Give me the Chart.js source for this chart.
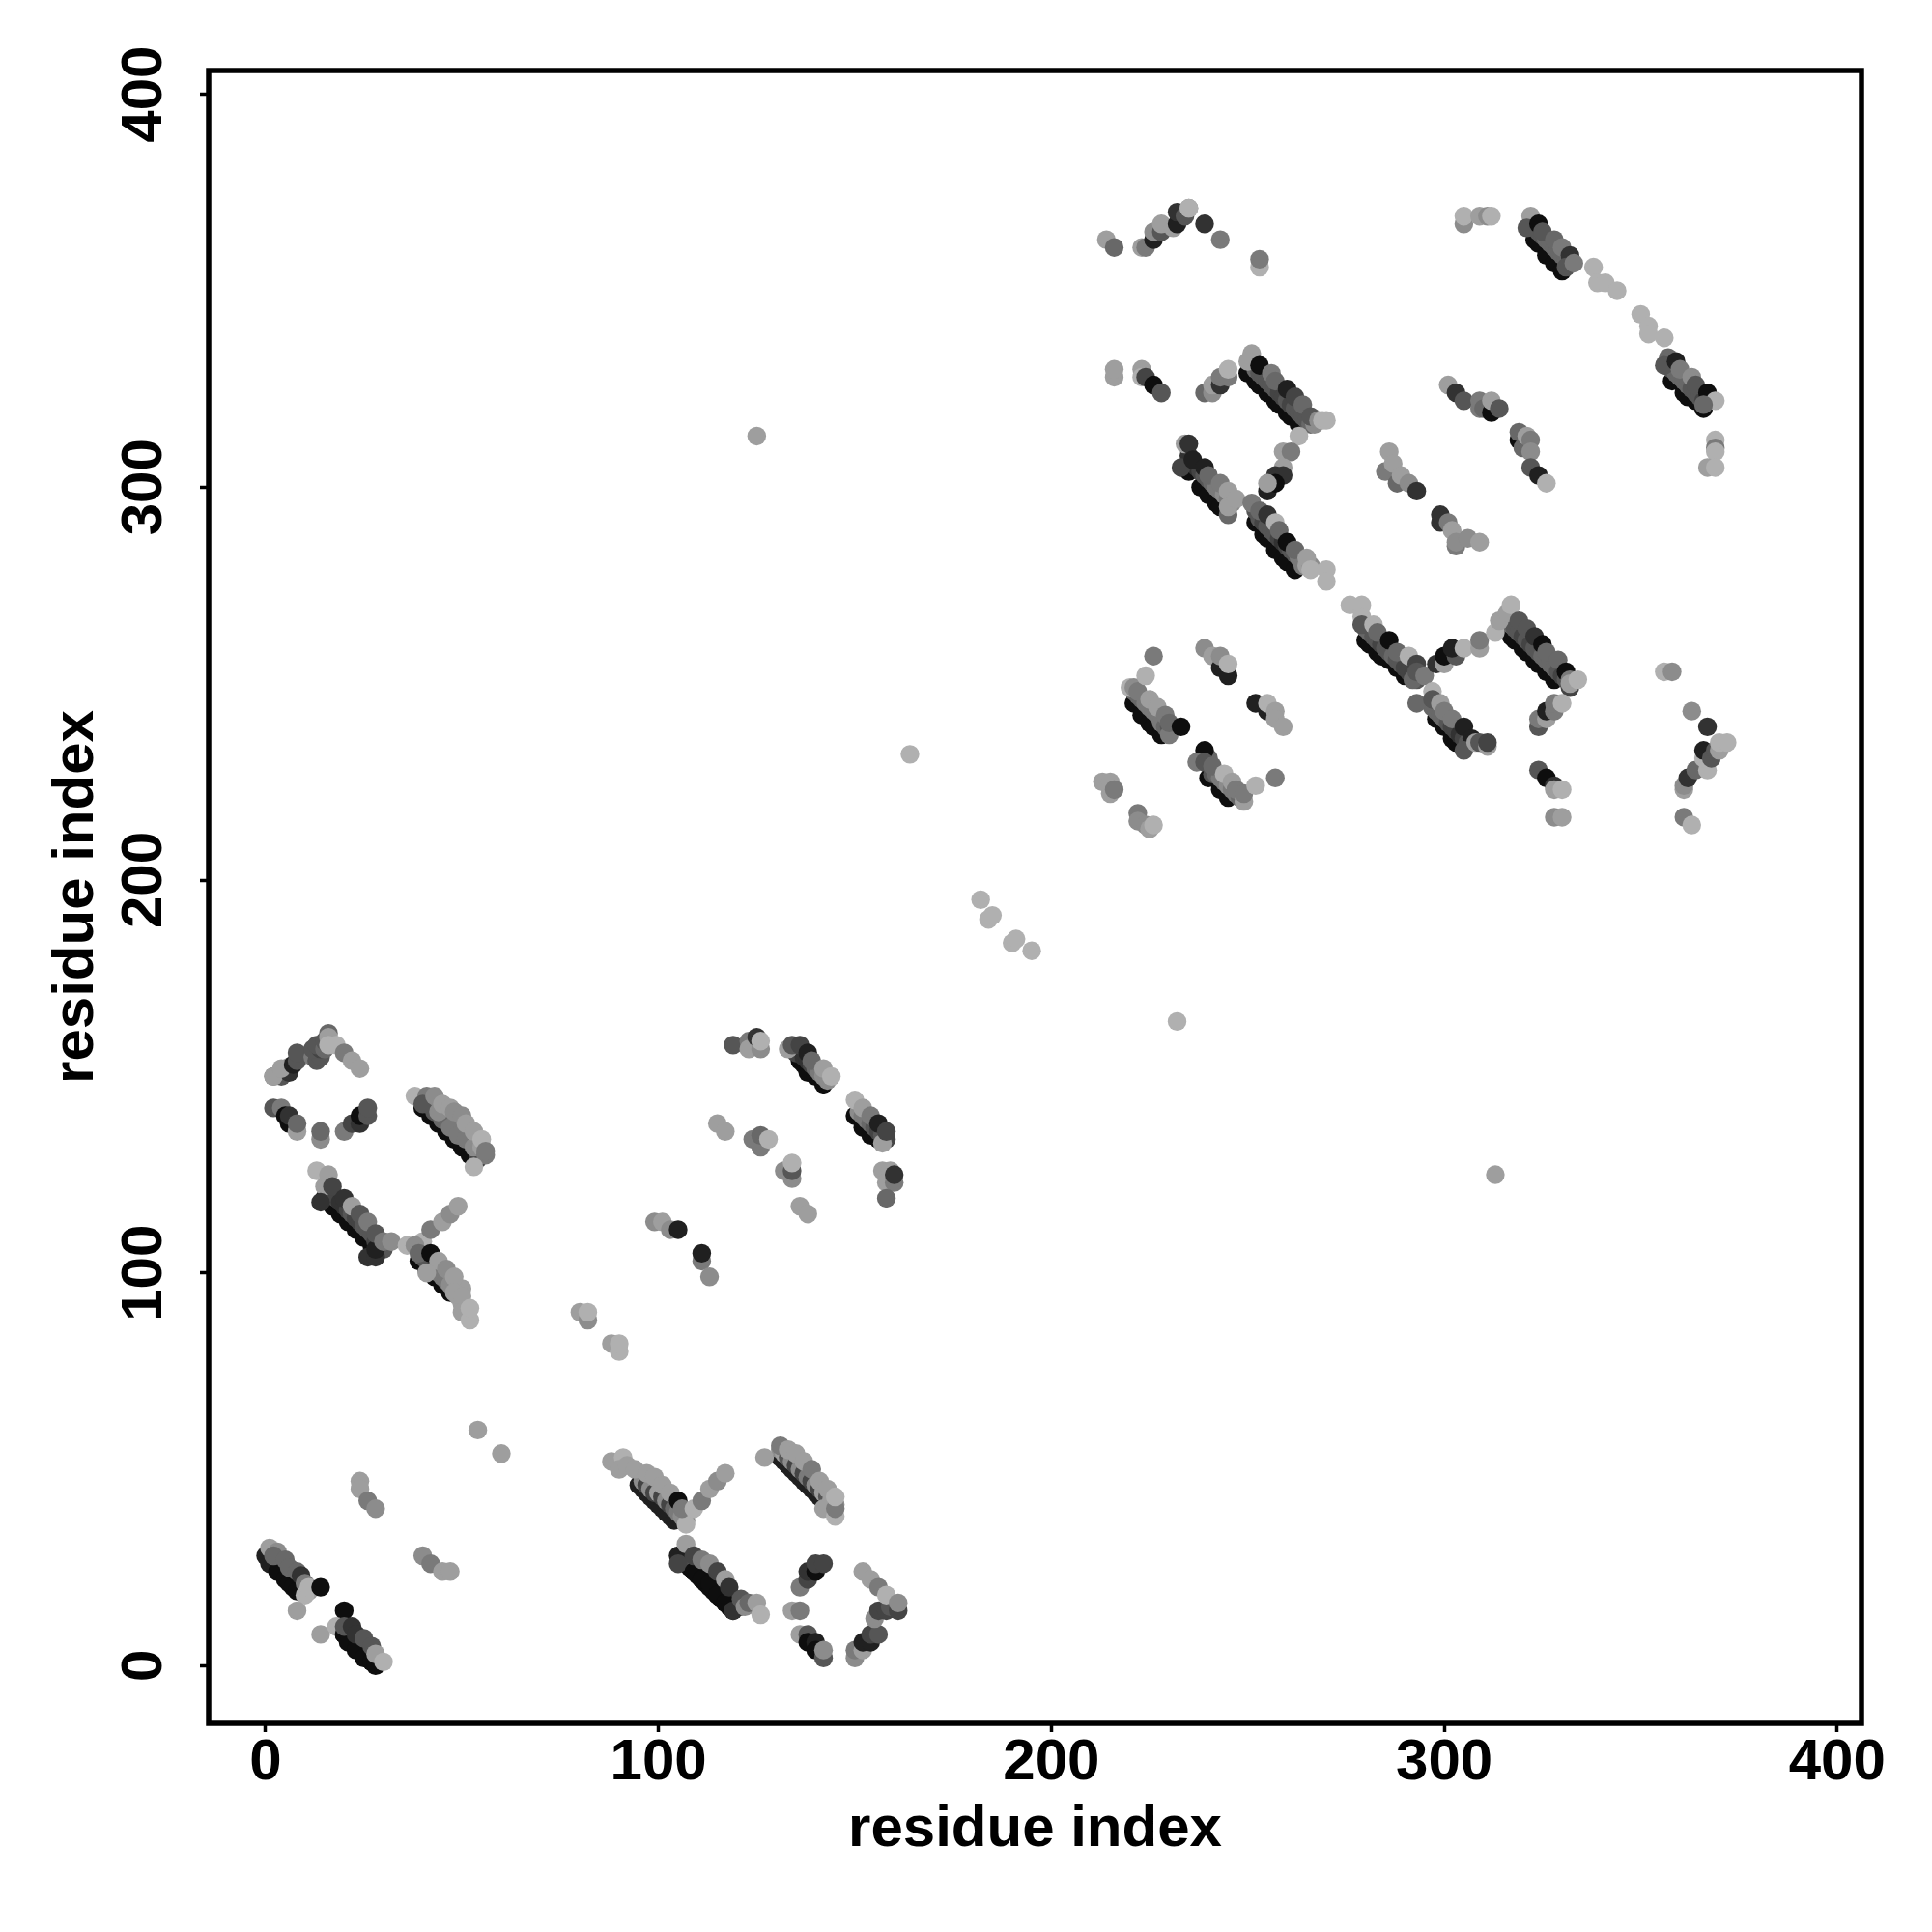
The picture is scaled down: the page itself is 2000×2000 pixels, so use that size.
<!DOCTYPE html>
<html>
<head>
<meta charset="utf-8">
<title>residue contact map</title>
<script src="https://cdn.jsdelivr.net/npm/chart.js@4"></script>
<style>
  html, body { margin: 0; padding: 0; background: #fff; }
  #wrap { width: 2000px; height: 2000px; }
</style>
</head>
<body>
<div id="wrap"><canvas id="contactChart" width="2000" height="2000"></canvas></div>
<script>
// each contact: [residue x, residue y, score 0 (weak) .. 9 (strong)]
var tickValues = [0, 100, 200, 300, 400];
var axisTitle = 'residue index';

// contacts hidden under the top layer of the thick strand pairs
var contactsStrandCores = [
  [1,27,8],[2,26,9],[3,25,9],[4,24,9],[5,23,9],[6,22,9],[7,21,9],[8,20,9],[9,19,8],
  [2,28,3],[3,27,5],[4,26,5],[5,25,4],[6,24,4],[7,23,4],[8,22,5],[9,21,7],[10,20,6],[11,19,1],
  [20,8,9],[21,7,9],[22,6,9],[23,5,9],[24,4,9],[25,3,9],[26,2,9],[27,1,9],
  [20,10,6],[21,9,7],[22,8,7],[23,7,6],[24,6,6],[25,5,5],[26,4,6],[27,3,5],[28,2,3],[29,1,1],
  [95,46,8],[96,45,8],[97,44,8],[98,43,8],[99,42,8],[100,41,8],[101,40,8],[102,39,8],[103,38,8],[104,37,8],
  [96,47,2],[97,46,6],[98,45,2],[99,44,6],[100,44,1],[101,43,6],[102,42,2],[103,41,6],[104,40,4],[105,39,3],[106,38,2],
  [106,27,9],[107,26,9],[108,25,9],[109,24,9],[110,23,9],[111,22,9],[112,21,9],[113,20,9],[114,19,9],[115,18,9],[116,17,9],[117,16,9],[118,15,9],[119,14,9],
  [107,30,1],[108,28,5],[109,27,5],[110,26,5],[111,25,5],[112,24,4],[113,23,5],[114,22,6],[115,21,3],[116,20,5],[117,19,7],[118,18,7],[119,17,6],[120,16,6],[121,15,5],
  [131,53,8],[132,52,8],[133,51,8],[134,50,8],[135,49,8],[136,48,8],[137,47,8],[138,46,8],[139,45,8],[140,44,8],[141,43,8],[142,42,8],[143,41,8],
  [131,55,2],[132,54,1],[133,53,5],[134,52,2],[135,51,6],[136,50,2],[137,49,6],[138,48,3],[139,47,6],[140,46,2],[141,45,6],[142,44,1],[143,43,5],[144,42,1],[145,41,2],
  [40,142,9],[42,140,9],[44,138,9],[46,136,9],[48,134,9],[50,132,9],[52,130,9],[54,129,6],
  [41,143,6],[43,141,5],[45,139,4],[47,137,3],[49,135,3],[51,134,3],[53,132,2],[55,132,1],[56,130,3],
  [15,119,9],[17,117,9],[19,115,9],[21,113,9],[23,111,9],[25,109,9],[27,107,9],[28,105,9],
  [16,121,7],[17,120,7],[18,119,6],[19,118,7],[20,117,7],[21,116,6],[22,115,5],[23,114,6],[24,113,6],[25,112,5],[26,111,5],[27,110,5],[28,108,6],[29,107,5],[30,106,5],
  [39,103,9],[41,101,9],[43,99,9],[45,97,9],[47,95,9],
  [40,104,4],[41,103,5],[42,102,5],[43,101,6],[44,100,4],[45,99,3],[46,98,3],[47,97,2],[48,96,2],[49,94,1],[50,92,1],[51,91,1],[50,96,1],
  [136,154,9],[137,153,9],[138,151,9],[140,150,9],[142,148,9],
  [135,156,6],[136,156,6],[137,155,7],[138,154,7],[139,153,6],[140,152,4],[141,151,3],[142,150,2],[143,149,2],
  [150,140,9],[152,137,9],[154,135,9],[156,134,9],
  [151,141,2],[152,140,3],[153,139,3],[154,138,4],[155,137,5],[156,136,6],[157,135,5],[158,134,6],
  [221,245,9],[223,242,9],[225,240,9],[226,239,9],[228,237,9],
  [221,248,4],[222,247,4],[223,246,4],[224,245,3],[225,244,3],[226,243,3],[227,242,3],[228,240,3],[229,239,4],[230,239,5],
  [240,226,9],[243,223,9],[245,221,9],
  [240,231,4],[241,227,5],[242,227,4],[243,226,3],[244,225,3],[245,224,2],[246,223,3],[247,222,3],[248,221,4],
  [280,261,9],[281,260,9],[283,258,9],[284,257,9],[286,256,9],[288,254,9],[290,252,9],
  [280,264,4],[281,263,4],[282,262,5],[283,261,5],[284,260,6],[285,259,5],[286,258,5],[287,257,4],[288,256,5],[289,255,5],[290,254,6],[291,253,6],[292,252,6],[293,251,5],
  [298,241,9],[300,239,9],[302,236,9],[303,235,9],
  [297,244,4],[298,243,4],[299,242,4],[300,241,4],[301,240,5],[302,239,6],[303,238,6],[304,237,7],[305,236,6],[306,235,5],
  [315,264,9],[317,262,9],[318,261,9],[320,259,9],[321,258,9],[323,256,9],[324,255,9],[326,253,9],[328,251,9],
  [316,266,4],[317,265,4],[318,264,5],[319,263,5],[320,262,6],[321,261,5],[322,260,6],[323,259,5],[324,258,5],[325,257,4],[326,256,4],[327,255,4],[328,254,4],[329,253,5],[330,252,6],[331,251,5],[332,249,6],
  [250,329,9],[252,327,9],[253,326,9],[255,324,9],[257,322,9],[258,321,9],[260,319,9],[261,318,9],[263,316,9],
  [252,330,4],[253,329,5],[254,328,5],[255,327,5],[256,326,5],[257,325,5],[258,324,6],[259,323,6],[260,322,5],[261,321,6],[262,320,5],[263,319,5],[264,318,5],[265,317,5],[266,316,4],[267,316,2],
  [235,304,9],[238,300,9],[240,298,9],[242,296,9],[243,295,9],
  [235,308,7],[236,306,7],[237,305,7],[238,304,6],[239,303,5],[240,302,5],[241,301,4],[242,300,3],[243,299,3],[244,298,2],[245,297,3],[246,296,2],
  [252,291,9],[254,288,9],[255,287,9],[257,284,9],[259,282,9],[260,281,9],[262,279,9],
  [252,294,5],[253,292,5],[254,291,6],[255,290,5],[256,289,5],[257,288,5],[258,287,6],[259,286,7],[260,285,6],[261,284,5],[262,283,5],[263,282,3],[264,280,3],[265,280,1],[266,280,2],
  [323,363,9],[324,362,9],[326,359,9],[328,357,9],[330,355,9],
  [323,366,6],[324,365,5],[325,364,5],[326,363,4],[327,362,4],[328,361,4],[329,360,4],[330,359,4],[331,358,4],[332,357,5],
  [358,327,9],[361,324,9],[362,323,9],[364,322,9],[366,320,9],
  [357,331,5],[358,330,5],[359,329,4],[360,328,4],[361,327,4],[362,326,4],[363,325,5],[364,324,5],[365,323,5],[366,322,6],[367,322,6]
];
var contactsNearStart = [
  [0,28,8],[1,26,8],[3,24,9],[5,22,9],[6,21,9],[7,20,9],[8,19,9],
  [1,30,1],[3,29,2],[2,28,4],[5,27,4],[6,25,4],[8,24,4],[9,23,7],[10,21,3],[10,18,0],[11,20,0],[14,20,9],[8,14,1],
  [20,14,9],[14,8,1],[18,10,0],[20,8,9],[21,6,9],[23,4,9],[25,2,9],[27,1,9],[28,0,9],
  [20,10,5],[22,10,7],[23,8,7],[25,7,5],[27,5,5],[28,3,1],[30,1,0],
  [24,47,1],[24,45,1],[26,42,3],[28,40,2],[40,28,2],[42,26,3],[45,24,1],[47,24,1],
  [54,60,1],[60,54,1]
];
var contactsLowerMiddle = [
  [88,52,1],[91,53,0],[90,50,1],[92,51,1],[94,50,1],[97,49,1],
  [99,48,1],[101,46,1],[103,44,1],[105,42,9],[107,37,2],[107,36,0],[106,40,3],[109,40,0],[111,42,3],[113,45,1],[115,47,2],[117,49,1],
  [105,28,8],[105,26,6],[109,24,9],[111,22,9],[113,21,9],[115,18,9],[117,16,9],[119,14,7],
  [107,31,1],[109,28,6],[111,27,3],[113,26,2],[115,24,6],[117,22,1],[118,20,7],[121,17,5],[122,15,2],[123,16,4],[125,16,1],[126,13,0],
  [127,53,1],[131,56,3],
  [133,55,1],[135,54,1],[137,52,1],[139,50,3],[141,47,1],[142,40,1],[143,45,1],[145,38,0],[145,40,3],[145,43,0],
  [136,20,3],[138,22,6],[138,24,7],[140,24,9],[140,26,6],[142,26,6],
  [134,14,1],[136,14,3],
  [136,8,1],[138,8,5],[138,6,9],[140,6,8],[140,4,9],[142,2,5],[142,4,2],
  [150,2,2],[150,4,3],[152,4,1],[152,6,8],[154,6,8],[154,8,6],[156,8,5],
  [155,12,2],[156,14,6],[158,14,6],[159,15,5],[161,14,6],[152,24,1],[154,22,1],[156,20,3],[158,18,0],[161,16,2]
];
var contactsLeftColumn = [
  [2,150,3],[4,150,5],[2,150,1],[5,152,9],[6,151,7],[4,152,1],[7,153,8],[8,154,5],[8,156,5],
  [12,155,3],[13,154,5],[14,155,5],[12,157,5],[14,157,6],[13,158,5],[15,157,4],[15,159,5],[16,161,4],[16,160,1],[16,158,0],[18,158,0],[20,156,3],[22,154,1],[24,152,1],
  [2,142,5],[4,142,3],[5,140,9],[6,138,9],[6,140,7],[8,136,1],[8,138,4],[14,134,2],[14,136,4],[20,136,3],[22,138,6],[24,138,7],[24,140,9],[26,140,5],[26,142,5],
  [38,145,0],[41,145,3],[40,143,5],[43,145,2],[44,141,2],[45,143,1],[47,142,1],[48,141,2],[50,140,2],[51,138,1],[53,136,1],[55,134,0],[53,127,0],[56,131,3],
  [13,126,0],[15,122,1],[16,125,1],
  [14,118,7],[26,104,7],[28,104,7],[28,106,8],
  [17,122,6],[20,119,7],[22,117,1],[24,115,5],[26,113,3],[28,110,5],[30,108,3],[32,108,2],
  [36,107,0],[40,108,0],[42,111,3],[45,113,1],[47,115,2],[49,117,1],
  [38,107,2],[39,105,4],[42,105,9],[44,103,1],[41,100,1],[46,101,2],[48,99,1],[48,95,1],[50,94,1],[50,90,1],[52,88,0],[52,91,0],
  [80,90,1],[82,88,2],[82,90,0],[88,82,1],[90,80,0],[90,82,0],
  [99,113,2],[101,113,1],[103,111,2],[105,111,8],[111,103,3],[111,105,8],[113,99,2]
];
var contactsMiddleBlock = [
  [119,158,5],[123,159,3],[123,157,1],[125,160,7],[126,157,2],[126,159,0],
  [133,157,1],[134,158,5],[136,158,6],[138,156,8],[139,154,4],[142,152,1],[144,150,0],
  [157,133,1],[150,144,0],[152,142,1],[154,140,3],[156,138,8],[158,136,6],
  [115,138,1],[117,136,1],
  [124,134,3],[126,132,3],[126,135,4],[128,134,0],
  [132,126,2],[134,124,2],[134,126,5],[134,128,0],
  [136,117,1],[138,115,1],
  [157,126,1],[159,126,1],[158,123,1],[160,123,3],[160,125,7],[158,119,4],
  [125,313,1],[313,125,1],[164,232,0],[232,164,0],
  [182,195,0],[184,190,0],[185,191,0],[190,184,0],[191,185,0],[195,182,0]
];
var contactsLowerRight = [
  [213,225,1],[215,225,1],[215,222,1],[216,223,3],
  [222,217,3],[222,215,2],[224,214,2],[225,213,1],[226,214,0],
  [220,249,0],[221,249,2],[222,248,3],[225,246,1],[227,244,1],[229,242,3],[230,237,3],[230,240,4],[233,239,9],[224,252,0],[226,257,3],
  [239,259,2],[241,257,1],[243,254,8],[243,257,2],[245,252,8],[245,255,0],
  [252,245,8],[255,243,8],[255,245,0],[257,243,1],[257,241,1],[259,239,1],
  [239,233,9],[237,230,3],[239,230,5],[241,229,4],[244,227,0],[246,225,1],[247,223,3],[249,220,1],[249,222,3],[252,224,0],[257,226,3],
  [276,270,0],[279,270,0],[279,267,0],
  [279,265,5],[282,265,0],[283,263,4],[286,261,9],[288,258,4],[291,257,0],[293,255,6],[292,251,4],[293,253,5],[295,252,3],
  [293,245,4],[297,248,0],[297,246,5],[299,245,1],[300,243,3],[302,241,3],[305,239,8],[307,236,8],[305,233,5],[308,235,1],[309,235,5],[311,234,1],[311,235,6],
  [298,255,7],[300,255,1],[300,257,9],[303,257,5],[302,259,8],[305,259,0],[309,259,1],[309,261,3],[313,263,0],
  [314,266,1],
  [316,268,1],[317,270,0],[319,266,5],[321,264,5],[323,262,7],[325,260,9],[326,258,4],[329,256,4],[331,253,9],[332,251,3],[332,250,1],[334,251,0],
  [324,239,5],[324,241,3],[326,241,1],[326,243,8],[328,243,3],[328,245,3],[330,245,0],
  [324,228,5],[326,226,9],[328,224,7],[328,223,1],[330,223,0],[328,216,2],[330,216,1],
  [356,253,0],[358,253,2],[363,243,2],[367,239,7],
  [361,223,1],[361,224,2],[362,226,7],[364,228,4],[367,228,0],[366,231,0],[366,233,8],[368,231,5],[369,233,5],[370,233,1],[370,235,0],[372,235,0],
  [361,216,3],[363,214,0]
];
var contactsUpperRight = [
  [214,363,1],[216,361,4],[223,361,1],[224,361,3],[226,363,8],[226,365,2],[228,365,5],[228,367,1],[231,366,1],[232,367,8],[232,370,7],[234,369,5],[235,371,2],[235,371,0],[239,367,7],[243,363,3],[253,356,0],[253,358,3],
  [216,328,1],[216,330,1],[223,330,1],[223,328,0],[224,328,6],[226,326,9],[228,324,5],
  [239,324,4],[241,324,2],[241,326,1],[243,326,7],[243,328,3],[245,328,3],[245,330,0],
  [251,334,1],[250,332,1],[253,331,9],[256,329,3],[257,327,4],[260,325,8],[262,323,6],[264,321,4],[266,318,5],[268,317,2],[269,317,0],[270,317,0],
  [263,313,0],[259,309,1],[261,309,3],[259,305,1],[257,303,7],[259,303,7],[255,299,8],[257,301,9],[255,301,1],
  [233,305,6],[234,311,1],[235,311,7],[236,307,8],[239,305,8],[240,303,4],[243,301,3],[245,299,1],[245,293,4],[245,295,1],[247,297,1],
  [251,296,3],[253,294,4],[255,293,7],[257,291,0],[258,289,4],[260,286,9],[262,284,4],[265,282,1],[266,279,0],[270,279,0],[270,276,0],
  [285,304,3],[288,301,4],[286,309,1],[287,306,1],[289,303,1],[291,301,2],[293,299,7],
  [299,291,7],[299,293,7],[301,291,3],[302,289,1],[303,285,3],[303,286,2],[306,287,2],[309,286,1],
  [301,326,1],[303,324,7],[305,322,5],[309,320,3],[309,322,3],[310,320,4],[312,319,9],[312,322,1],[314,320,5],
  [319,312,9],[319,314,4],[320,310,4],[321,313,1],[322,312,3],[322,309,2],[322,305,5],[324,303,8],[326,301,0],
  [305,367,2],[305,369,0],[309,369,1],[311,369,2],[312,369,0],
  [322,369,1],[321,366,5],[324,367,9],[325,365,5],[328,363,4],[330,361,3],[332,359,7],[331,356,5],[333,357,3],
  [338,356,0],[339,352,0],[341,352,0],[344,350,0],
  [350,344,0],[352,341,0],[352,339,0],[356,338,0],
  [357,333,4],[356,331,5],[359,332,8],[360,330,3],[363,328,2],[364,326,5],[367,324,9],[369,322,0],[366,321,4],
  [369,312,0],[369,310,3],[369,309,0],[367,305,1],[369,305,0]
];

var allContacts = contactsStrandCores.concat(contactsNearStart, contactsLowerMiddle, contactsLeftColumn, contactsMiddleBlock, contactsLowerRight, contactsUpperRight);

function scoreToGray(score) {
  var g = 176 - score * 18;
  return 'rgb(' + g + ',' + g + ',' + g + ')';
}

var boxFrame = {
  id: 'boxFrame',
  afterDatasetsDraw: function (chart) {
    var a = chart.chartArea;
    var ctx = chart.ctx;
    ctx.save();
    ctx.strokeStyle = '#000';
    ctx.lineWidth = 5.5;
    ctx.strokeRect(a.left, a.top, a.right - a.left, a.bottom - a.top);
    ctx.restore();
  }
};

var labelFont = { family: '"Liberation Sans", Arial, sans-serif', size: 60, weight: 'bold' };

function axisOptions(lo, hi, fitSide, titlePadding, tickPadding) {
  return {
    type: 'linear',
    min: lo,
    max: hi,
    afterBuildTicks: function (scale) {
      scale.ticks = tickValues.map(function (v) { return { value: v }; });
    },
    grid: { drawOnChartArea: false, drawTicks: true, tickLength: 9, tickWidth: 3.5, tickColor: '#000' },
    border: { display: false },
    ticks: { color: '#000', font: labelFont, padding: tickPadding, autoSkip: false },
    title: { display: true, text: axisTitle, color: '#000', font: labelFont, padding: titlePadding },
    afterFit: function (scale) { scale[fitSide] = 216; }
  };
}

var xAxis = axisOptions(-14.5, 406.2, 'height', { top: 0, bottom: 69.5 }, -4);
xAxis.ticks.maxRotation = 0;
xAxis.ticks.minRotation = 0;
var yAxis = axisOptions(-14.65, 406.05, 'width', { top: 43, bottom: 0 }, 6);
yAxis.ticks.minRotation = 90;
yAxis.ticks.maxRotation = 90;
yAxis.ticks.crossAlign = 'center';

var ctx = document.getElementById('contactChart').getContext('2d');
var contactChart = new Chart(ctx, {
  type: 'scatter',
  data: {
    datasets: [{
      label: 'contacts',
      data: allContacts.map(function (c) { return { x: c[0], y: c[1] }; }),
      pointBackgroundColor: allContacts.map(function (c) { return scoreToGray(c[2]); }),
      pointBorderWidth: 0,
      pointRadius: 9.7
    }]
  },
  options: {
    responsive: false,
    animation: false,
    layout: { padding: { left: 0, top: 73, right: 73, bottom: 0 } },
    scales: { x: xAxis, y: yAxis },
    plugins: { legend: { display: false }, tooltip: { enabled: false } }
  },
  plugins: [boxFrame]
});
</script>
</body>
</html>
